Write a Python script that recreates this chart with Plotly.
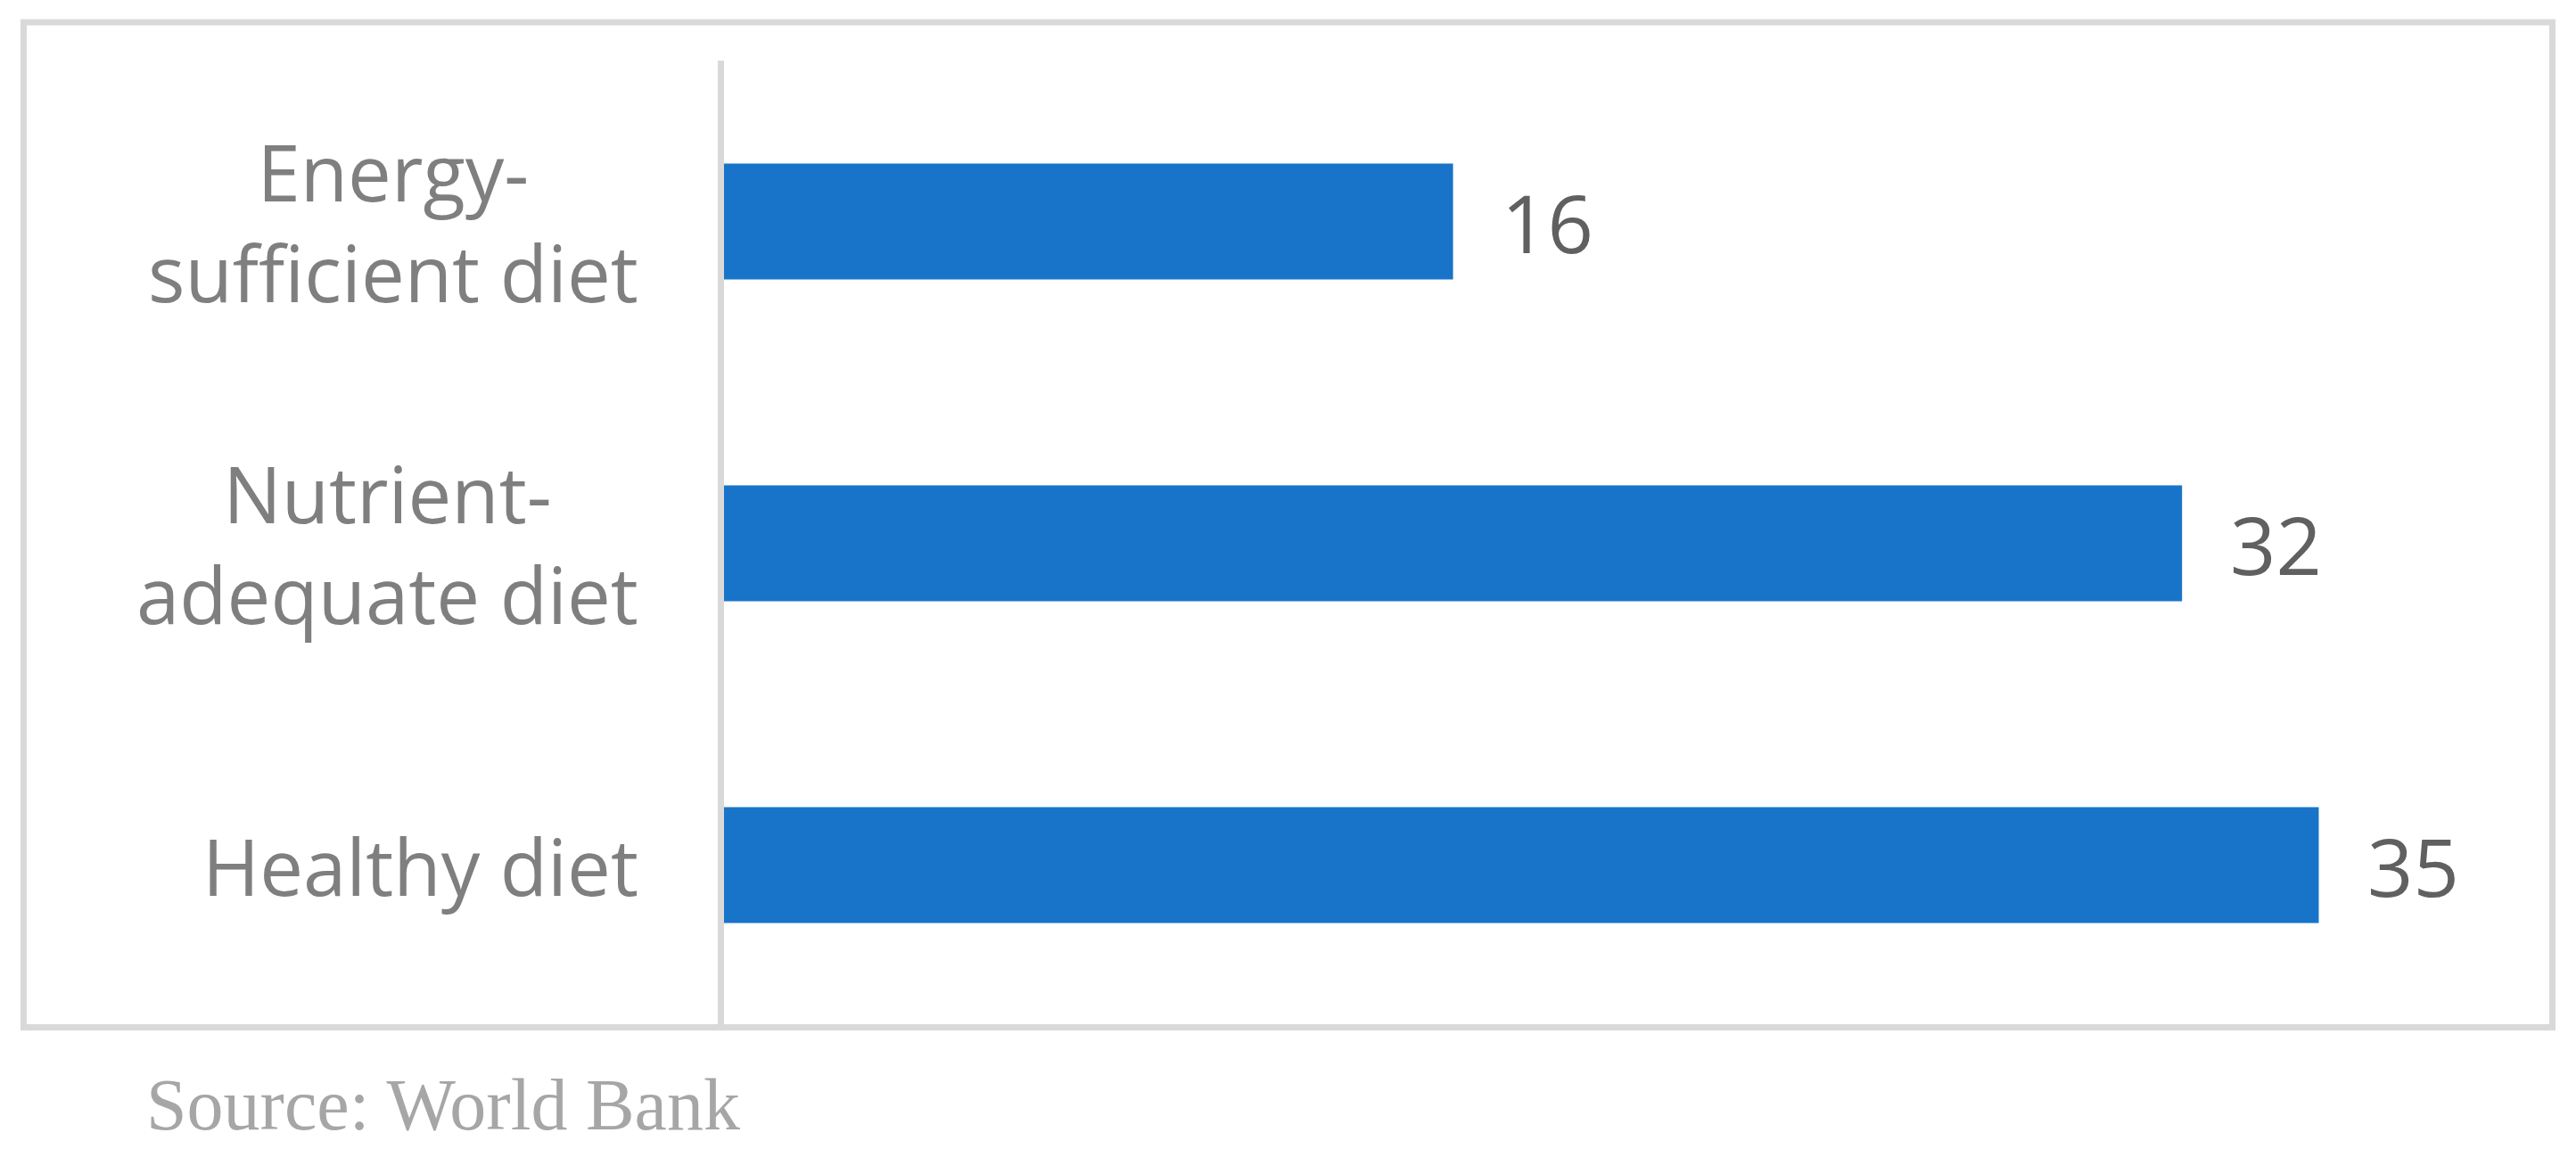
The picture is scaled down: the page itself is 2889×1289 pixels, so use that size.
import plotly.graph_objects as go

# data
categories = ["Energy-<br>sufficient diet", "Nutrient-<br>adequate diet", "Healthy diet"]
values = [16, 32, 35]
source_text = "Source: World Bank"

# colors
bar_color = "#1874C8"
grid_gray = "#D9D9D9"
label_gray = "#7F7F7F"
value_gray = "#606060"

W, H = 2889, 1289
ml, mr, mt, mb = 812, 33, 68, 138
pw, ph = W - ml - mr, H - mt - mb


def px_x(p):
    return (p - ml) / pw


def px_y(p):
    return (H - mb - p) / ph


fig = go.Figure()

fig.add_trace(go.Bar(
    x=values,
    y=categories,
    orientation="h",
    marker_color=bar_color,
    marker_line_width=0,
    hoverinfo="skip",
))

# category labels, centred lines like the original
for c in categories:
    fig.add_annotation(
        x=px_x(718), y=c, xref="paper", yref="y",
        text=c, showarrow=False, align="center",
        xanchor="right", yanchor="middle",
        font={"family": "Open Sans", "size": 87, "color": label_gray},
    )

# value labels to the right of each bar
for c, v in zip(categories, values):
    fig.add_annotation(
        x=v, y=c, xref="x", yref="y",
        text=str(v), showarrow=False,
        xanchor="left", yanchor="middle", xshift=52,
        font={"family": "Open Sans", "size": 90, "color": value_gray},
    )

# outer chart border
fig.add_shape(
    type="rect", xref="paper", yref="paper",
    x0=px_x(26.5), x1=px_x(2862.5), y0=px_y(1152.5), y1=px_y(25),
    line={"color": grid_gray, "width": 7}, layer="below",
)

# source note
fig.add_annotation(
    x=px_x(162), y=px_y(1287), xref="paper", yref="paper",
    text=source_text, showarrow=False,
    xanchor="left", yanchor="bottom",
    font={"family": "Liberation Serif", "size": 82, "color": "#A6A6A6"},
)

fig.update_layout(
    width=W, height=H,
    margin={"l": ml, "r": mr, "t": mt, "b": mb, "pad": 0},
    paper_bgcolor="white", plot_bgcolor="white",
    bargap=0.64,
    showlegend=False,
    xaxis={"range": [0, 40], "visible": False, "fixedrange": True},
    yaxis={
        "autorange": "reversed",
        "showline": True, "linecolor": grid_gray, "linewidth": 7,
        "showgrid": False, "zeroline": False,
        "ticks": "", "showticklabels": False,
        "fixedrange": True,
    },
)

# drop the default page margin so the chart sits at the window's corner
fig.write_html("out.html", config={"displayModeBar": False},
               post_script="document.body.style.margin='0';")
